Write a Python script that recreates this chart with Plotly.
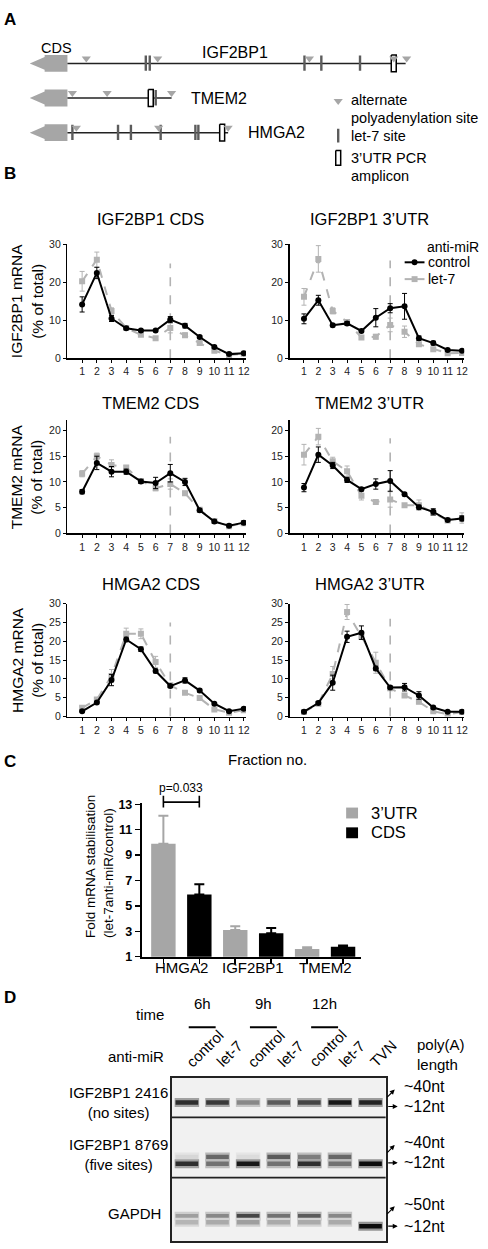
import plotly.graph_objects as go

W, H = 488, 1249
def px(x): return x / W
def py(y): return 1 - y / H

FONT = "Arial, Liberation Sans, sans-serif"
GRAY = "#b3b3b3"
GENE_GRAY = "#a6a6a6"

# ---------------- Panel A data ----------------
genes = ["IGF2BP1", "TMEM2", "HMGA2"]
utr_length = [341, 105, 162]
polyA_sites = [[19, 91, 244, 329, 342], [5, 40, 105], [9, 92, 162]]
let7_sites = [[79, 83, 239, 256, 295], [89], [5, 51, 64, 94, 129, 132]]
amplicon_pos = [329, 84, 156]

# ---------------- Panel B data ----------------
fractions = list(range(1, 13))
igf_cds_ctrl = [14.2, 22.5, 10.5, 7.9, 7.3, 7.3, 10.2, 8.6, 5.6, 3.0, 1.1, 1.3]
igf_cds_ctrl_err = [2.0, 1.5, 0.8, 0.3, 0.3, 0.3, 0.8, 0.6, 0.4, 0.3, 0.2, 0.2]
igf_cds_let7 = [20.3, 26.0, 12.5, 8.0, 6.2, 5.3, 8.0, 6.1, 4.0, 2.0, 0.9, 1.2]
igf_cds_let7_err = [2.6, 2.0, 0.8, 0.5, 0.4, 0.4, 1.3, 0.6, 0.4, 0.3, 0.2, 0.2]

igf_utr_ctrl = [10.4, 15.3, 8.7, 9.2, 7.2, 10.7, 13.2, 13.7, 5.3, 4.0, 2.2, 2.0]
igf_utr_ctrl_err = [1.3, 1.3, 0.4, 0.5, 0.3, 2.4, 1.2, 3.4, 0.6, 0.5, 0.3, 0.2]
igf_utr_let7 = [16.2, 26.2, 12.5, 9.6, 5.5, 5.7, 8.8, 7.0, 3.7, 2.4, 1.3, 1.4]
igf_utr_let7_err = [2.2, 3.5, 0.8, 0.6, 0.5, 0.6, 1.8, 1.5, 0.4, 0.3, 0.2, 0.2]

tmem_cds_ctrl = [8.1, 13.7, 12.0, 12.0, 10.1, 9.8, 11.7, 10.0, 4.5, 2.3, 1.5, 2.1]
tmem_cds_ctrl_err = [0.4, 1.3, 1.0, 0.5, 0.4, 1.1, 1.7, 0.7, 0.3, 0.3, 0.2, 0.3]
tmem_cds_let7 = [11.6, 15.0, 13.3, 12.8, 10.2, 8.8, 9.6, 7.8, 4.6, 2.4, 1.4, 2.0]
tmem_cds_let7_err = [0.6, 0.6, 1.0, 0.4, 0.4, 0.5, 1.0, 0.4, 0.4, 0.3, 0.3, 0.4]

tmem_utr_ctrl = [8.9, 15.3, 13.2, 10.4, 8.6, 9.6, 10.2, 7.6, 5.1, 4.2, 2.6, 2.9]
tmem_utr_ctrl_err = [0.8, 1.5, 0.6, 0.5, 0.3, 1.0, 2.0, 0.3, 0.4, 0.6, 0.3, 0.5]
tmem_utr_let7 = [15.3, 18.8, 14.0, 12.1, 7.3, 6.1, 6.6, 5.5, 5.5, 4.0, 2.5, 3.0]
tmem_utr_let7_err = [2.0, 1.6, 0.8, 1.0, 0.8, 0.3, 1.5, 0.3, 1.0, 0.5, 0.3, 1.0]

hmga_cds_ctrl = [1.4, 3.7, 9.7, 20.5, 17.9, 12.1, 8.1, 9.6, 6.9, 3.4, 1.4, 2.1]
hmga_cds_ctrl_err = [0.3, 0.3, 1.5, 0.6, 0.6, 0.5, 0.4, 0.7, 0.4, 0.3, 0.2, 0.3]
hmga_cds_let7 = [2.3, 4.5, 10.8, 22.0, 22.0, 14.5, 8.3, 6.3, 4.9, 1.9, 1.0, 1.7]
hmga_cds_let7_err = [0.4, 0.4, 1.7, 1.5, 1.3, 1.5, 0.5, 0.4, 0.4, 0.3, 0.2, 0.3]

hmga_utr_ctrl = [1.3, 3.6, 9.0, 21.2, 22.3, 12.8, 7.7, 7.8, 5.6, 2.4, 1.3, 1.3]
hmga_utr_ctrl_err = [0.3, 0.4, 2.0, 1.5, 1.8, 0.6, 0.3, 1.0, 1.0, 0.3, 0.2, 0.2]
hmga_utr_let7 = [1.2, 3.4, 11.3, 27.8, 21.3, 14.3, 7.5, 5.6, 3.9, 1.4, 0.6, 1.2]
hmga_utr_let7_err = [0.3, 0.4, 2.0, 2.0, 0.8, 2.8, 0.4, 0.5, 0.5, 0.3, 0.2, 0.3]

panel_titles = ["IGF2BP1 CDS", "IGF2BP1 3\u2019UTR", "TMEM2 CDS", "TMEM2 3\u2019UTR",
                "HMGA2 CDS", "HMGA2 3\u2019UTR"]
row_ylabels = ["IGF2BP1 mRNA<br>(% of total)", "TMEM2 mRNA<br>(% of total)",
               "HMGA2 mRNA<br>(% of total)"]
row_ymax = [30, 22.1, 30]
row_ticks = [[0, 10, 20, 30], [0, 5, 10, 15, 20], [0, 5, 10, 15, 20, 25, 30]]
marker_fraction = 7
marker_top = [25, 25.8, 18.8, 18.5, 25, 26]

# ---------------- Panel C data ----------------
c_genes = ["HMGA2", "IGF2BP1", "TMEM2"]
utr_fold = [9.9, 3.1, 1.6]
utr_fold_err = [2.2, 0.3, 0.15]
cds_fold = [5.9, 2.85, 1.78]
cds_fold_err = [0.8, 0.4, 0.1]
c_yticks = [1, 3, 5, 7, 9, 11, 13]

# ---------------- Panel D data ----------------
lane_labels = ["control", "let-7", "control", "let-7", "control", "let-7", "TVN"]
time_labels = ["6h", "9h", "12h"]
gel_rows = ["IGF2BP1 2416<br>(no sites)", "IGF2BP1 8769<br>(five sites)", "GAPDH"]
band_pos = [25, 80, 87, 140, 146, 150]
band_intensity = [
    [0.85, 0.80, 0.45, 0.65, 0.75, 0.95, 0.90],
    [0.10, 0.60, 0.08, 0.65, 0.50, 0.60, 0.00],
    [0.85, 0.55, 0.95, 0.55, 0.85, 0.55, 1.00],
    [0.35, 0.45, 0.75, 0.55, 0.65, 0.45, 0.00],
    [0.25, 0.30, 0.35, 0.30, 0.30, 0.30, 0.00],
    [0.00, 0.00, 0.00, 0.00, 0.00, 0.00, 1.00],
]
size_labels = [["~40nt", "~12nt"], ["~40nt", "~12nt"], ["~50nt", "~12nt"]]

fig = go.Figure()
ann = []
shapes = []

def txt(x, y, t, size=15, xanchor="center", yanchor="middle", **kw):
    d = dict(x=x, y=y, xref="paper", yref="paper", text=t, showarrow=False,
             font=dict(family=FONT, size=size, color="black"),
             xanchor=xanchor, yanchor=yanchor)
    d.update(kw)
    ann.append(d)

# ================= Panel A =================
AX, AY = "x7", "y7"
rows_y = [58, 93, 128]
for gi, g in enumerate(genes):
    r = rows_y[gi]
    fig.add_trace(go.Scatter(
        x=[0, -23, -23, -38, -23, -23, 0, 0],
        y=[r - 8.5, r - 8.5, r - 6.5, r, r + 6.5, r + 8.5, r + 8.5, r - 8.5],
        fill="toself", fillcolor=GENE_GRAY, line=dict(width=0), mode="lines",
        xaxis=AX, yaxis=AY, hoverinfo="skip"))
    fig.add_trace(go.Scatter(x=[0, utr_length[gi]], y=[r, r], mode="lines",
                             line=dict(color="#222", width=1.5), xaxis=AX, yaxis=AY))
    xs, ys = [], []
    for s in let7_sites[gi]:
        xs += [s, s, None]
        ys += [r - 8, r + 7.5, None]
    fig.add_trace(go.Scatter(x=xs, y=ys, mode="lines", line=dict(color="#5c5c5c", width=2.4),
                             xaxis=AX, yaxis=AY))
    a = amplicon_pos[gi]
    fig.add_trace(go.Scatter(x=[a - 2.5, a + 2.5, a + 2.5, a - 2.5, a - 2.5],
                             y=[r - 8.5, r - 8.5, r + 8.5, r + 8.5, r - 8.5],
                             mode="lines", fill="toself", fillcolor="white",
                             line=dict(color="black", width=1.5), xaxis=AX, yaxis=AY))
    fig.add_trace(go.Scatter(x=polyA_sites[gi], y=[r - 5] * len(polyA_sites[gi]),
                             mode="markers", marker=dict(symbol="triangle-down", size=8,
                                                         color=GENE_GRAY, line=dict(width=0)),
                             xaxis=AX, yaxis=AY))
# legend symbols for panel A
fig.add_trace(go.Scatter(x=[273], y=[96], mode="markers",
                         marker=dict(symbol="triangle-down", size=8, color=GENE_GRAY),
                         xaxis=AX, yaxis=AY))
fig.add_trace(go.Scatter(x=[273, 273], y=[124, 138], mode="lines",
                         line=dict(color="#5c5c5c", width=2.4), xaxis=AX, yaxis=AY))
fig.add_trace(go.Scatter(x=[270.5, 275.5, 275.5, 270.5, 270.5], y=[146, 146, 161, 161, 146],
                         mode="lines", line=dict(color="black", width=1.5), xaxis=AX, yaxis=AY))
fig.update_layout(
    xaxis7=dict(domain=[0, 1], range=[-68, 420], visible=False, anchor="y7"),
    yaxis7=dict(domain=[py(180), py(35)], range=[180, 35], visible=False, anchor="x7"),
)
txt(px(57), py(42), "CDS", 14.5)
txt(px(237), py(47), genes[0], 16)
txt(px(221), py(93), genes[1], 16)
txt(px(279), py(128), genes[2], 16)
txt(px(352), py(95), "alternate", 14.5, xanchor="left")
txt(px(352), py(113), "polyadenylation site", 14.5, xanchor="left")
txt(px(352), py(131), "let-7 site", 14.5, xanchor="left")
txt(px(352), py(154), "3\u2019UTR PCR", 14.5, xanchor="left")
txt(px(352), py(172), "amplicon", 14.5, xanchor="left")

# ================= Panel B =================
panel_data = [
    (igf_cds_ctrl, igf_cds_ctrl_err, igf_cds_let7, igf_cds_let7_err),
    (igf_utr_ctrl, igf_utr_ctrl_err, igf_utr_let7, igf_utr_let7_err),
    (tmem_cds_ctrl, tmem_cds_ctrl_err, tmem_cds_let7, tmem_cds_let7_err),
    (tmem_utr_ctrl, tmem_utr_ctrl_err, tmem_utr_let7, tmem_utr_let7_err),
    (hmga_cds_ctrl, hmga_cds_ctrl_err, hmga_cds_let7, hmga_cds_let7_err),
    (hmga_utr_ctrl, hmga_utr_ctrl_err, hmga_utr_let7, hmga_utr_let7_err),
]
col_x = [(68, 248), (292, 468)]
row_y = [(241, 356), (418, 533), (604, 718)]
title_x = [152, 373]
title_y = [215, 401, 584]
layout_axes = {}
for i, (c, ce, l, le) in enumerate(panel_data):
    r, col = divmod(i, 2)
    n = i + 1
    xa, ya = f"x{n}", f"y{n}"
    fig.add_trace(go.Scatter(x=[marker_fraction, marker_fraction], y=[0, marker_top[i]],
                             mode="lines", line=dict(color=GRAY, width=1.6, dash="dash"),
                             xaxis=xa, yaxis=ya))
    fig.add_trace(go.Scatter(x=fractions, y=l, mode="lines+markers",
                             line=dict(color=GRAY, width=2, dash="dash"),
                             marker=dict(symbol="square", size=6, color=GRAY),
                             error_y=dict(type="data", array=le, color=GRAY, thickness=1, width=2.5),
                             xaxis=xa, yaxis=ya))
    fig.add_trace(go.Scatter(x=fractions, y=c, mode="lines+markers",
                             line=dict(color="black", width=2),
                             marker=dict(symbol="circle", size=6, color="black"),
                             error_y=dict(type="data", array=ce, color="black", thickness=1, width=2.5),
                             xaxis=xa, yaxis=ya))
    x0, x1 = col_x[col]
    y0, y1 = row_y[r]
    layout_axes[f"xaxis{n}"] = dict(
        domain=[px(x0), px(x1)], range=[0, 12.15], tickvals=fractions, ticks="outside",
        ticklen=3, tickwidth=1, tickcolor="black", showline=True, linecolor="black",
        linewidth=1.6, showgrid=False, zeroline=False, anchor=ya,
        tickfont=dict(family=FONT, size=10.5, color="#222"))
    layout_axes[f"yaxis{n}"] = dict(
        domain=[py(y1), py(y0)], range=[0, row_ymax[r]], tickvals=row_ticks[r], ticks="outside",
        ticklen=3, tickwidth=1, tickcolor="black", showline=True, linecolor="black",
        linewidth=1.6, showgrid=False, zeroline=False, anchor=xa,
        tickfont=dict(family=FONT, size=10.5, color="#222"))
    txt(px(title_x[col]), py(title_y[r]), panel_titles[i], 16.5)
fig.update_layout(**layout_axes)
for r, lab in enumerate(row_ylabels):
    txt(px(27), py((row_y[r][0] + row_y[r][1]) / 2), lab, 15.5, textangle=-90)
txt(px(270), py(761), "Fraction no.", 15)

# legend panel B
txt(px(429), py(244), "anti-miR", 14, xanchor="left")
txt(px(430), py(259), "control", 14, xanchor="left")
txt(px(430), py(276), "let-7", 14, xanchor="left")
shapes.append(dict(type="line", xref="paper", yref="paper", x0=px(408), x1=px(428),
                   y0=py(259), y1=py(259), line=dict(color="black", width=2)))
shapes.append(dict(type="circle", xref="paper", yref="paper", x0=px(415), x1=px(421),
                   y0=py(256), y1=py(262), fillcolor="black", line=dict(width=0)))
shapes.append(dict(type="line", xref="paper", yref="paper", x0=px(408), x1=px(428),
                   y0=py(276), y1=py(276), line=dict(color=GRAY, width=2)))
shapes.append(dict(type="rect", xref="paper", yref="paper", x0=px(415), x1=px(421),
                   y0=py(273), y1=py(279), fillcolor=GRAY, line=dict(width=0)))

# ================= Panel C =================
fig.add_trace(go.Bar(x=[0, 2, 4], y=utr_fold, width=0.68, marker=dict(color=GENE_GRAY, line=dict(width=0)),
                     error_y=dict(type="data", array=utr_fold_err, arrayminus=[0, 0, 0], symmetric=False,
                                  color=GENE_GRAY, thickness=2, width=5),
                     xaxis="x8", yaxis="y8"))
fig.add_trace(go.Bar(x=[1, 3, 5], y=cds_fold, width=0.68, marker=dict(color="black", line=dict(width=0)),
                     error_y=dict(type="data", array=cds_fold_err, arrayminus=[0, 0, 0], symmetric=False,
                                  color="black", thickness=2, width=5),
                     xaxis="x8", yaxis="y8"))
fig.update_layout(
    xaxis8=dict(domain=[px(143), px(364)], range=[-0.6, 5.5], tickvals=[0, 1, 2, 3, 4, 5],
                showticklabels=False, ticks="outside", ticklen=5, tickwidth=1.5, tickcolor="black",
                showline=True, linecolor="black", linewidth=2, showgrid=False, zeroline=False,
                anchor="y8"),
    yaxis8=dict(domain=[py(960.7), py(805)], range=[1, 13.13], tickvals=c_yticks, ticks="outside",
                ticklen=5, tickwidth=1.5, tickcolor="black", showline=True, linecolor="black",
                linewidth=2, showgrid=False, zeroline=False, anchor="x8",
                tickfont=dict(family=FONT, size=12.5, color="black", weight="bold")),
)
for k, g in enumerate(c_genes):
    ann.append(dict(x=2 * k + 0.5, y=py(982), xref="x8", yref="paper", text=g, showarrow=False,
                    font=dict(family=FONT, size=15, color="black")))
ann.append(dict(x=0.5, y=py(790), xref="x8", yref="paper", text="p=0.033", showarrow=False,
                font=dict(family=FONT, size=12, color="black")))
shapes.append(dict(type="line", xref="x8", yref="paper", x0=0, x1=1, y0=py(804.5), y1=py(804.5),
                   line=dict(color="black", width=1.6)))
for xx in (0, 1):
    shapes.append(dict(type="line", xref="x8", yref="paper", x0=xx, x1=xx, y0=py(798), y1=py(810),
                       line=dict(color="black", width=1.6)))
txt(px(101), py(870), "Fold mRNA stabilisation<br>(let-7anti-miR/control)", 13.5,
    textangle=-90, align="left")
shapes.append(dict(type="rect", xref="paper", yref="paper", x0=px(349), x1=px(361),
                   y0=py(821), y1=py(810), fillcolor=GENE_GRAY, line=dict(width=0)))
shapes.append(dict(type="rect", xref="paper", yref="paper", x0=px(349), x1=px(361),
                   y0=py(841), y1=py(830), fillcolor="black", line=dict(width=0)))
txt(px(372), py(815), "3\u2019UTR", 16.5, xanchor="left")
txt(px(372), py(835), "CDS", 16.5, xanchor="left")

# ================= Panel D =================
shapes.append(dict(type="rect", xref="x9", yref="y9", x0=0.5, x1=7.5, y0=0, y1=165,
                   fillcolor="#f1f1f1", line=dict(width=0), layer="below"))
lanes = list(range(1, 8))
for bi, bp in enumerate(band_pos):
    for li, inten in enumerate(band_intensity[bi]):
        if inten <= 0:
            continue
        lv = int(238 - 225 * inten)
        halo = int(lv + 0.6 * (238 - lv))
        xl = [lanes[li] - 0.40, lanes[li] + 0.40]
        fig.add_trace(go.Scatter(x=xl, y=[bp, bp], mode="lines",
                                 line=dict(color=f"rgb({halo},{halo},{halo})", width=9),
                                 xaxis="x9", yaxis="y9"))
        fig.add_trace(go.Scatter(x=[xl[0] + 0.03, xl[1] - 0.03], y=[bp, bp], mode="lines",
                                 line=dict(color=f"rgb({lv},{lv},{lv})", width=4.5),
                                 xaxis="x9", yaxis="y9"))
for yy in (40, 101):
    fig.add_trace(go.Scatter(x=[0.5, 7.5], y=[yy, yy], mode="lines",
                             line=dict(color="#222", width=1.8), xaxis="x9", yaxis="y9"))
fig.update_layout(
    xaxis9=dict(domain=[px(173), px(389)], range=[0.5, 7.5], showticklabels=False, ticks="",
                showline=True, mirror=True, linecolor="#222", linewidth=1.8, showgrid=False,
                zeroline=False, anchor="y9"),
    yaxis9=dict(domain=[py(1248), py(1083)], range=[165, 0], showticklabels=False, ticks="",
                showline=True, mirror=True, linecolor="#222", linewidth=1.8, showgrid=False,
                zeroline=False, anchor="x9"),
)
for li, lab in enumerate(lane_labels):
    ann.append(dict(x=lanes[li], y=py(1078), xref="x9", yref="paper", text=lab, showarrow=False,
                    textangle=-45, xanchor="left", yanchor="bottom", xshift=-7,
                    font=dict(family=FONT, size=15, color="black")))
for k, t in enumerate(time_labels):
    xc = 2 * k + 1.5
    ann.append(dict(x=xc, y=py(1019), xref="x9", yref="paper", text=t, showarrow=False,
                    font=dict(family=FONT, size=15, color="black")))
    shapes.append(dict(type="line", xref="x9", yref="paper", x0=xc - 0.44, x1=xc + 0.44,
                       y0=py(1032), y1=py(1032), line=dict(color="black", width=1.8)))
txt(px(151), py(1019), "time", 15)
txt(px(137), py(1062), "anti-miR", 15)
txt(px(418), py(1060), "poly(A)<br>length", 15, xanchor="left", align="left")
row_label_y = [1108, 1161, 1220]
for k, lab in enumerate(gel_rows):
    txt(px(119 if k < 2 else 136), py(row_label_y[k]), lab, 15)
size_y = [(1092, 1112), (1148, 1169), (1211, 1233)]
diag_head = [1095, 1151, 1213]
for k in range(3):
    hi, lo = size_y[k]
    txt(px(405), py(hi), size_labels[k][0], 16, xanchor="left")
    txt(px(405), py(lo), size_labels[k][1], 16, xanchor="left")
    ann.append(dict(x=px(398), y=py(diag_head[k]), xref="paper", yref="paper", text="",
                    showarrow=True, ax=-9, ay=9, arrowhead=2, arrowsize=0.9, arrowwidth=1.1,
                    arrowcolor="black"))
    ann.append(dict(x=px(401), y=py(lo), xref="paper", yref="paper", text="",
                    showarrow=True, ax=-11, ay=0, arrowhead=2, arrowsize=0.9, arrowwidth=1.1,
                    arrowcolor="black"))

# panel letters
for lab, yy in (("A", 14), ("B", 169), ("C", 763), ("D", 1002)):
    txt(px(10), py(yy), f"<b>{lab}</b>", 17)

fig.update_layout(
    width=W, height=H, margin=dict(l=0, r=0, t=0, b=0),
    paper_bgcolor="white", plot_bgcolor="white", showlegend=False,
    annotations=ann, shapes=shapes, hovermode=False,
    font=dict(family=FONT),
)
fig.write_html("out.html", config={"displayModeBar": False, "staticPlot": True},
               post_script="document.body.style.margin='0';document.body.style.overflow='hidden';")
